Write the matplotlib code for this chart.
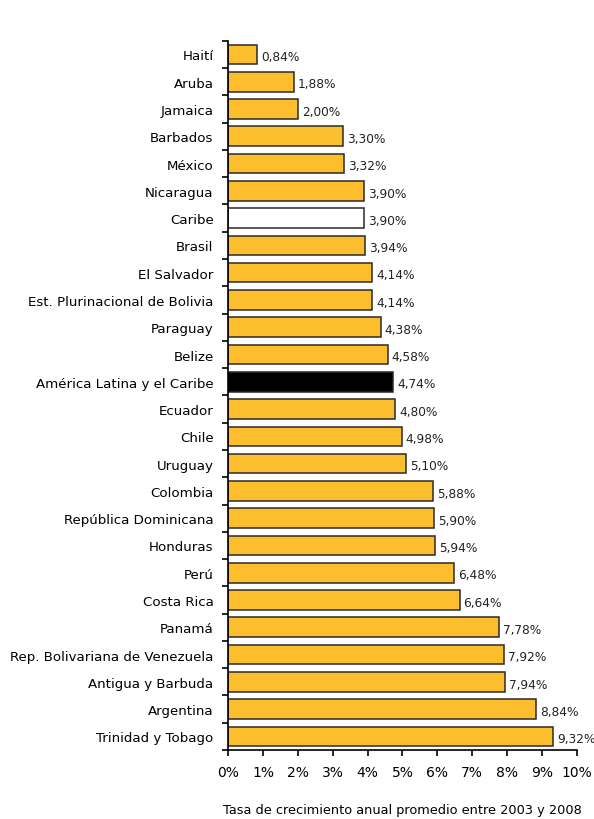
import numpy as np
import matplotlib
matplotlib.use("Agg")
import matplotlib.pyplot as plt
from matplotlib.ticker import FixedLocator, FuncFormatter

countries = ["Haití", "Aruba", "Jamaica", "Barbados", "México", "Nicaragua",
             "Caribe", "Brasil", "El Salvador", "Est. Plurinacional de Bolivia",
             "Paraguay", "Belize", "América Latina y el Caribe", "Ecuador",
             "Chile", "Uruguay", "Colombia", "República Dominicana", "Honduras",
             "Perú", "Costa Rica", "Panamá", "Rep. Bolivariana de Venezuela",
             "Antigua y Barbuda", "Argentina", "Trinidad y Tobago"]
rates = [0.84, 1.88, 2.00, 3.30, 3.32, 3.90, 3.90, 3.94, 4.14, 4.14, 4.38,
         4.58, 4.74, 4.80, 4.98, 5.10, 5.88, 5.90, 5.94, 6.48, 6.64, 7.78,
         7.92, 7.94, 8.84, 9.32]
xticks = list(range(0, 11))

plt.rcParams['font.family'] = ['DejaVu Sans']

fig = plt.figure(figsize=(5.94, 8.2), dpi=100)
ax = fig.add_axes([0.384, 0.0841, 0.587, 0.8649])

y = np.arange(len(countries))
colors = []
for c in countries:
    if c == "Caribe":
        colors.append("white")
    elif c == "América Latina y el Caribe":
        colors.append("black")
    else:
        colors.append("#FDBE2E")

ax.barh(y, rates, height=0.72, color=colors, edgecolor="#2a2a2a", linewidth=1.1)

for yi, v in zip(y, rates):
    ax.text(v + 0.11, yi + 0.08, ("%.2f%%" % v).replace(".", ","), va="center",
            ha="left", fontsize=8.7, color="#222222")

ax.set_ylim(len(countries) - 0.5, -0.5)
ax.set_xlim(0, 10)
ax.set_yticks(y)
ax.set_yticklabels(countries, fontsize=9.6)
ax.yaxis.set_minor_locator(FixedLocator(np.arange(-0.5, len(countries), 1.0)))
ax.tick_params(axis="y", which="major", length=0, pad=10.5)
ax.tick_params(axis="y", which="minor", length=4, width=1.2, direction="out")

ax.set_xticks(xticks)
ax.xaxis.set_major_formatter(FuncFormatter(lambda v, p: "%d%%" % v))
ax.tick_params(axis="x", which="major", length=4, width=1.2, direction="out",
               labelsize=10, pad=7)

for s in ["top", "right"]:
    ax.spines[s].set_visible(False)
ax.spines["left"].set_linewidth(1.2)
ax.spines["bottom"].set_linewidth(1.2)

ax.set_xlabel("Tasa de crecimiento anual promedio entre 2003 y 2008",
              fontsize=9.3, labelpad=17)

fig.savefig("out.png", dpi=100)
